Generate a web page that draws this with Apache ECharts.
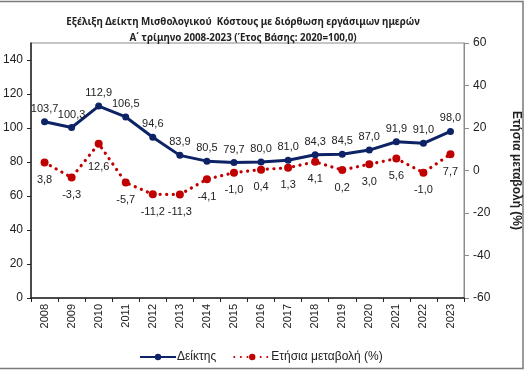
<!DOCTYPE html>
<html>
<head>
<meta charset="utf-8">
<script src="https://cdn.jsdelivr.net/npm/echarts@6/dist/echarts.min.js"></script>
<style>
html,body{margin:0;padding:0;background:#fff;}
#c{width:530px;height:374px;}
</style>
</head>
<body>
<div id="c"></div>
<script>
var years = ['2008','2009','2010','2011','2012','2013','2014','2015','2016','2017','2018','2019','2020','2021','2022','2023'];
var indexValues = [103.7, 100.3, 112.9, 106.5, 94.6, 83.9, 80.5, 79.7, 80.0, 81.0, 84.3, 84.5, 87.0, 91.9, 91.0, 98.0];
var changeValues = [3.8, -3.3, 12.6, -5.7, -11.2, -11.3, -4.1, -1.0, 0.4, 1.3, 4.1, 0.2, 3.0, 5.6, -1.0, 7.7];
var leftTicks = [0, 20, 40, 60, 80, 100, 120, 140];
var rightTicks = [-60, -40, -20, 0, 20, 40, 60];

function fmt(v){ return v.toFixed(1).replace('.', ','); }

var chart = echarts.init(document.getElementById('c'));
var labelFont = {fontFamily:'Liberation Sans, Arial, sans-serif', fontSize:11, color:'#222'};

// the 2010 change label sits further below its point in the reference
var changeData = changeValues.map(function(v, i){
  return i === 2 ? {value:v, label:{distance:14}} : v;
});

chart.setOption({
  animation:false,
  backgroundColor:'#fff',
  textStyle:{fontFamily:'Liberation Sans, Arial, sans-serif'},
  graphic:[{type:'rect', shape:{x:-2, y:1.5, width:525, height:367}, style:{fill:null, stroke:'#7a7a7a', lineWidth:1.5}, silent:true}],
  title:{
    text:'Εξέλιξη Δείκτη Μισθολογικού  Κόστους με διόρθωση εργάσιμων ημερών\nΑ΄ τρίμηνο 2008-2023 (Έτος Βάσης: 2020=100,0)',
    left:238, top:9, textAlign:'center',
    textStyle:{fontFamily:'Noto Sans, sans-serif', fontSize:9.8, fontWeight:'bold', color:'#222', lineHeight:16}
  },
  legend:{
    left:134, top:346, itemWidth:36, itemHeight:8, itemGap:17,
    textStyle:{fontFamily:'Liberation Sans, Arial, sans-serif', fontSize:12, color:'#222', padding:[0,0,0,-4]},
    data:['Δείκτης','Ετήσια μεταβολή (%)']
  },
  grid:{left:31, right:57, top:43, bottom:76, show:true, borderColor:'#8c8c8c', borderWidth:1, backgroundColor:'#fff'},
  xAxis:{
    type:'category', data:years, boundaryGap:true,
    axisLine:{lineStyle:{color:'#222', width:1.5}},
    axisTick:{show:true, alignWithLabel:false, length:4, lineStyle:{color:'#222'}},
    axisLabel:Object.assign({rotate:90, margin:6, interval:0}, labelFont),
    splitLine:{show:false}
  },
  yAxis:[{
    type:'value', min:0, max:150, interval:10,
    axisLine:{show:true, lineStyle:{color:'#222', width:1.5}},
    axisTick:{show:true, length:4, inside:false, lineStyle:{color:'#222'}, customValues:leftTicks},
    axisLabel:Object.assign({margin:8, customValues:leftTicks}, labelFont, {fontSize:12}),
    splitLine:{show:false}
  },{
    type:'value', min:-60, max:60, interval:20, position:'right',
    name:'Ετήσια μεταβολή (%)', nameLocation:'middle', nameRotate:-90, nameGap:46,
    nameTextStyle:{fontFamily:'Liberation Sans, Arial, sans-serif', fontSize:12, fontWeight:'bold', color:'#222'},
    axisLine:{show:true, lineStyle:{color:'#8c8c8c', width:1}},
    axisTick:{show:true, length:5, lineStyle:{color:'#8c8c8c'}},
    axisLabel:Object.assign({margin:9}, labelFont, {fontSize:12}),
    splitLine:{show:false}
  }],
  series:[{
    name:'Δείκτης', type:'line', yAxisIndex:0, data:indexValues,
    symbol:'circle', symbolSize:7, color:'#0d2366',
    lineStyle:{width:3, color:'#0d2366'},
    itemStyle:{color:'#0d2366'},
    label:Object.assign({show:true, position:'top', distance:4, formatter:function(p){return fmt(p.value);}}, labelFont),
    z:3
  },{
    name:'Ετήσια μεταβολή (%)', type:'line', yAxisIndex:1, data:changeData,
    symbol:'circle', symbolSize:8, color:'#c00000',
    lineStyle:{width:3.2, color:'#c00000', type:[0.1,6.5], cap:'round'},
    itemStyle:{color:'#c00000'},
    label:Object.assign({show:true, position:'bottom', distance:8, formatter:function(p){return fmt(p.value);}}, labelFont),
    z:2
  }]
});
</script>
</body>
</html>
